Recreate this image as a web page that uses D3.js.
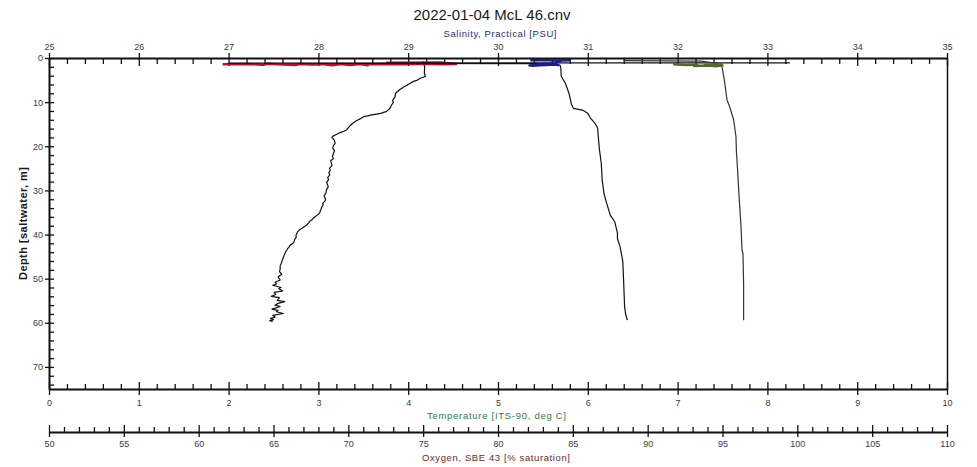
<!DOCTYPE html>
<html>
<head>
<meta charset="utf-8">
<script src="https://cdn.jsdelivr.net/npm/d3@7"></script>
<style>
  html, body { margin: 0; padding: 0; background: #fff; }
  svg { display: block; font-family: "Liberation Sans", Arial, sans-serif; }
</style>
</head>
<body>
<svg id="chart" width="977" height="467"></svg>
<script>
// ---- text ----
const titleText = "2022-01-04 McL 46.cnv";
const salinityLabel = "Salinity, Practical [PSU]";
const temperatureLabel = "Temperature [ITS-90, deg C]";
const oxygenLabel = "Oxygen, SBE 43 [% saturation]";
const depthLabel = "Depth [saltwater, m]";

// ---- axis domains and tick labels ----
const depthDomain = [0, 75];
const salinityDomain = [25, 35];
const temperatureDomain = [0, 10];
const oxygenDomain = [50, 110];
const depthTicks = [0, 10, 20, 30, 40, 50, 60, 70];
const salinityTicks = [25, 26, 27, 28, 29, 30, 31, 32, 33, 34, 35];
const temperatureTicks = [0, 1, 2, 3, 4, 5, 6, 7, 8, 9, 10];
const oxygenTicks = [50, 55, 60, 65, 70, 75, 80, 85, 90, 95, 100, 105, 110];

// ---- profiles: [depth (m), value] ----
// surface soak scans, drawn in each sensor's colour
const oxygenSoak = [
  [1.40, 61.6], [1.35, 63.4], [1.55, 64.3], [1.30, 64.6], [1.45, 65.3], [1.60, 66.4],
  [1.35, 66.8], [1.50, 67.6], [1.40, 68.3], [1.65, 68.9], [1.35, 69.5], [1.60, 70.1],
  [1.40, 70.8], [1.65, 71.3], [1.45, 71.0], [1.35, 72.4], [1.40, 73.8], [1.30, 75.0],
  [1.40, 76.3], [1.35, 77.2], [1.00, 76.2], [1.05, 72.6], [1.20, 74.9]
];
const salinitySoak = [
  [0.50, 30.36], [0.45, 30.50], [0.55, 30.62], [0.50, 30.80], [0.60, 30.70],
  [1.30, 30.62], [1.55, 30.40], [1.70, 30.35], [1.60, 30.55], [1.40, 30.47],
  [1.75, 30.38], [1.50, 30.60], [1.55, 30.66], [1.35, 30.52], [1.60, 30.68]
];
const temperatureSoak = [
  [1.40, 6.95], [1.60, 7.10], [1.50, 7.22], [1.80, 7.18], [1.70, 7.36], [1.50, 7.44],
  [1.70, 7.50], [1.90, 7.42], [1.60, 7.30], [1.40, 7.46], [1.25, 7.50]
];

// downcast traces
const oxygenCast = [
  [0.8, 75.00], [2.0, 75.10], [3.4, 75.08], [4.2, 75.15], [4.6, 74.80], [5.0, 74.62],
  [5.3, 74.35], [5.9, 74.05], [6.2, 73.90], [6.5, 73.72], [7.2, 73.42], [7.6, 73.30],
  [8.0, 73.15], [8.8, 73.12], [9.6, 72.96], [10.1, 73.00], [10.6, 72.90], [11.4, 72.78],
  [12.1, 72.56], [12.5, 72.22], [12.7, 71.90], [12.9, 71.55], [13.1, 71.30], [13.3, 71.02],
  [13.8, 70.78], [14.1, 70.60], [14.4, 70.46], [15.0, 70.22], [15.4, 70.10], [15.7, 70.02],
  [16.3, 69.88], [16.6, 69.70], [16.9, 69.45], [17.4, 69.16], [17.7, 68.98], [18.0, 68.90],
  [18.6, 69.06], [19.3, 69.12], [19.9, 69.00], [20.5, 68.96], [21.0, 69.08], [21.4, 69.03],
  [22.3, 68.94], [22.8, 69.00], [23.3, 68.82], [23.9, 68.88], [24.4, 68.90], [25.0, 68.74],
  [25.4, 68.79], [26.0, 68.70], [26.5, 68.76], [27.1, 68.62], [27.6, 68.68], [28.1, 68.55],
  [28.6, 68.60], [29.2, 68.66], [29.6, 68.58], [30.2, 68.52], [30.7, 68.50], [31.2, 68.38],
  [31.6, 68.43], [32.1, 68.48], [32.5, 68.42], [33.0, 68.28], [33.3, 68.32], [33.8, 68.22],
  [34.2, 68.18], [34.7, 68.12], [35.2, 68.08], [35.6, 67.92], [35.9, 67.80], [36.3, 67.66],
  [36.7, 67.55], [37.0, 67.42], [37.3, 67.36], [37.9, 67.20], [38.3, 67.02], [38.6, 66.90],
  [39.0, 66.72], [39.4, 66.60], [39.8, 66.55], [40.2, 66.50], [40.6, 66.52], [41.1, 66.42],
  [41.6, 66.38], [42.0, 66.30], [42.4, 66.12], [42.8, 66.05], [43.2, 65.94], [43.5, 65.90],
  [44.0, 65.80], [44.4, 65.75], [44.8, 65.70], [45.3, 65.64], [45.7, 65.60], [46.2, 65.55],
  [46.7, 65.50], [47.2, 65.44], [47.8, 65.45], [48.4, 65.40], [49.0, 65.55], [49.6, 65.30],
  [50.3, 65.45], [50.8, 65.10], [51.2, 65.20], [51.5, 64.95], [52.0, 65.50], [52.3, 65.35],
  [52.8, 65.62], [53.1, 65.05], [53.6, 65.15], [54.0, 64.85], [54.3, 65.40], [54.9, 65.25],
  [55.2, 65.75], [55.6, 65.30], [56.0, 65.10], [56.3, 65.45], [56.9, 64.90], [57.2, 65.30],
  [57.5, 65.20], [57.9, 65.65], [58.3, 64.95], [58.7, 65.10], [59.0, 64.80], [59.3, 65.00],
  [59.5, 64.75], [59.7, 64.95]
];
const salinityCast = [
  [1.10, 33.25], [1.15, 27.00], [1.30, 30.60], [1.60, 30.69], [2.3, 30.70], [4.2, 30.705],
  [5.7, 30.75], [8.0, 30.79], [10.6, 30.82], [11.4, 30.84], [11.8, 30.94], [12.5, 31.00],
  [13.6, 31.03], [14.8, 31.08], [15.9, 31.11], [18.6, 31.12], [20.8, 31.13], [23.9, 31.15],
  [27.6, 31.16], [30.7, 31.18], [32.9, 31.21], [35.6, 31.25], [37.1, 31.30], [39.7, 31.33],
  [40.9, 31.33], [42.8, 31.36], [45.0, 31.38], [46.2, 31.39], [51.1, 31.40], [56.4, 31.41],
  [57.9, 31.42], [59.4, 31.44]
];
const temperatureCast = [
  [0.60, 6.40], [0.70, 7.26], [1.40, 7.49], [1.9, 7.494], [4.9, 7.52], [9.5, 7.55],
  [11.0, 7.579], [14.0, 7.624], [17.8, 7.65], [20.8, 7.654], [25.4, 7.668], [32.2, 7.687],
  [38.2, 7.706], [43.5, 7.717], [44.3, 7.728], [51.1, 7.735], [59.4, 7.735]
];

// ---- layout ----
const svg = d3.select("#chart");
const plotLeft = 49, plotRight = 947, plotTop = 58, plotBottom = 389, oxyAxisY = 432;

const y = d3.scaleLinear().domain(depthDomain).range([plotTop, plotBottom]);
const xSal = d3.scaleLinear().domain(salinityDomain).range([plotLeft, plotRight]);
const xTemp = d3.scaleLinear().domain(temperatureDomain).range([plotLeft, plotRight]);
const xOxy = d3.scaleLinear().domain(oxygenDomain).range([plotLeft, plotRight]);

const tickColor = "#111";
const labelColor = "#3a3a3a";

function styleAxis(g) {
  g.attr("font-family", null).attr("font-size", null);
  g.selectAll(".domain").attr("stroke", tickColor).attr("stroke-width", 2);
  g.selectAll(".tick line").attr("stroke", tickColor).attr("stroke-width", 1.3);
  g.selectAll(".tick text").attr("fill", labelColor).style("font-size", "9px");
}

// horizontal axis: labels on one side, minor ticks into the plot, majors crossing the line
function hAxis(scale, yPos, majors, minorStep, labelsAbove, majOut, majIn, minIn, pad) {
  const [d0, d1] = scale.domain();
  const minors = d3.range(d0, d1 + 1e-9, minorStep).filter(v => !majors.some(m => Math.abs(m - v) < 1e-6));
  const minorAxis = (labelsAbove ? d3.axisTop(scale) : d3.axisBottom(scale))
    .tickValues(minors).tickFormat("").tickSizeInner(-minIn).tickSizeOuter(0);
  const gMin = svg.append("g").attr("transform", `translate(0,${yPos})`).call(minorAxis);
  gMin.select(".domain").remove();
  styleAxis(gMin);

  const majorAxis = (labelsAbove ? d3.axisTop(scale) : d3.axisBottom(scale))
    .tickValues(majors).tickFormat(d3.format("d")).tickSizeInner(majOut).tickSizeOuter(0).tickPadding(pad);
  const gMaj = svg.append("g").attr("transform", `translate(0,${yPos})`).call(majorAxis);
  gMaj.selectAll(".tick line").attr("y1", labelsAbove ? majIn : -majIn);
  styleAxis(gMaj);
}

// top: salinity
hAxis(xSal, plotTop, salinityTicks, 0.2, true, 5, 8, 6, 3);
// bottom: temperature
hAxis(xTemp, plotBottom, temperatureTicks, 0.2, false, 6, 7, 5, 5);
// lower: oxygen
hAxis(xOxy, oxyAxisY, oxygenTicks, 1, false, 5, 7, 5, 4);

// left: depth
{
  const minors = d3.range(0, 75, 2).filter(v => v % 10 !== 0);
  const gMin = svg.append("g").attr("transform", `translate(${plotLeft},0)`)
    .call(d3.axisLeft(y).tickValues(minors).tickFormat("").tickSizeInner(-5).tickSizeOuter(0));
  gMin.select(".domain").remove();
  styleAxis(gMin);
  const gMaj = svg.append("g").attr("transform", `translate(${plotLeft},0)`)
    .call(d3.axisLeft(y).tickValues(depthTicks).tickFormat(d3.format("d")).tickSizeInner(4).tickSizeOuter(0).tickPadding(2));
  gMaj.selectAll(".tick line").attr("x1", 5);
  styleAxis(gMaj);
}

// right border
svg.append("line")
  .attr("x1", plotRight + 0.5).attr("x2", plotRight + 0.5)
  .attr("y1", plotTop).attr("y2", plotBottom + 1)
  .attr("stroke", tickColor).attr("stroke-width", 1.5);

// ---- profiles ----
const profiles = [
  { soak: oxygenSoak, cast: oxygenCast, x: xOxy, soakColor: "#b3122e", castColor: "#111" },
  { soak: salinitySoak, cast: salinityCast, x: xSal, soakColor: "#1c1c8a", castColor: "#111" },
  { soak: temperatureSoak, cast: temperatureCast, x: xTemp, soakColor: "#56692c", castColor: "#333" }
];

profiles.forEach(p => {
  const line = d3.line().x(d => p.x(d[1])).y(d => y(d[0]));
  svg.append("path").datum(p.cast)
    .attr("d", line).attr("fill", "none")
    .attr("stroke", p.castColor).attr("stroke-width", 1.2).attr("stroke-linejoin", "round");
  svg.append("path").datum(p.soak)
    .attr("d", line).attr("fill", "none")
    .attr("stroke", p.soakColor).attr("stroke-width", 2.4).attr("stroke-linejoin", "round");
});

// ---- titles ----
svg.append("text").attr("x", 492).attr("y", 20)
  .attr("text-anchor", "middle").style("font-size", "15px").attr("fill", "#1a1a1a")
  .text(titleText);

svg.append("text").attr("x", 500).attr("y", 36.5)
  .attr("text-anchor", "middle").style("font-size", "9.5px").attr("fill", "#2e2e66")
  .attr("textLength", 113).attr("lengthAdjust", "spacing")
  .text(salinityLabel);

svg.append("text").attr("x", 496.5).attr("y", 418.5)
  .attr("text-anchor", "middle").style("font-size", "9.5px").attr("fill", "#2f7a4c")
  .attr("textLength", 139).attr("lengthAdjust", "spacing")
  .text(temperatureLabel);

svg.append("text").attr("x", 496).attr("y", 460.5)
  .attr("text-anchor", "middle").style("font-size", "9.5px").attr("fill", "#6e2a2a")
  .attr("textLength", 148).attr("lengthAdjust", "spacing")
  .text(oxygenLabel);

svg.append("text")
  .attr("transform", `translate(27,${(plotTop + plotBottom) / 2}) rotate(-90)`)
  .attr("text-anchor", "middle").style("font-size", "11px").style("font-weight", "bold")
  .attr("fill", "#1a1a1a")
  .attr("textLength", 113).attr("lengthAdjust", "spacing")
  .text(depthLabel);
</script>
</body>
</html>
